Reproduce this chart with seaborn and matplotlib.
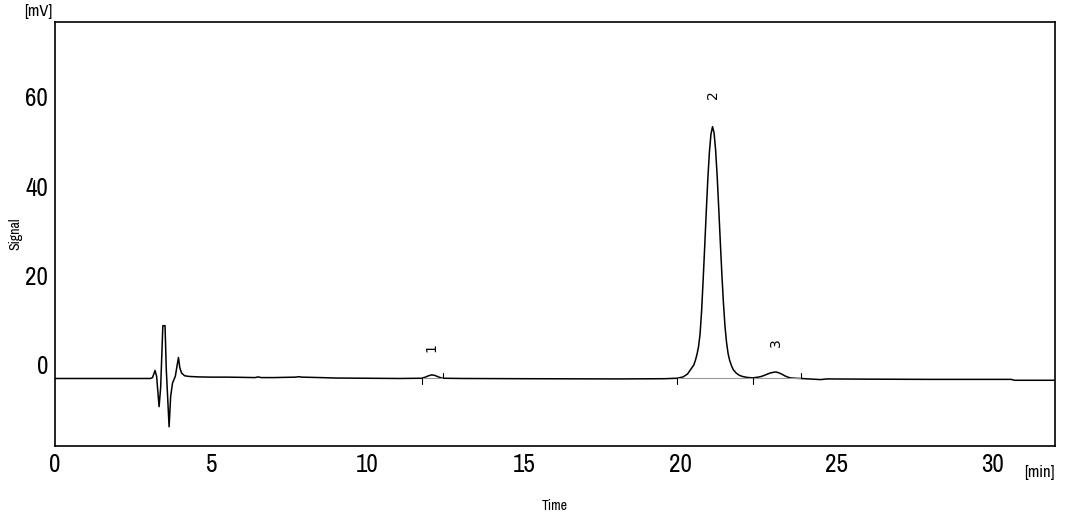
import matplotlib
matplotlib.use("Agg")
import matplotlib.pyplot as plt
from matplotlib import font_manager
import seaborn as sns
import pandas as pd

# chromatogram trace (time in min, signal in mV)
time_min = [0.0, 3.05, 3.12, 3.2, 3.25, 3.33, 3.38, 3.45, 3.52, 3.56, 3.65, 3.7, 3.76,
            3.85, 3.92, 3.95, 3.99, 4.05, 4.15, 4.3, 4.6, 5.0, 5.5, 6.0, 6.4, 6.5, 6.6,
            7.0, 7.7, 7.8, 7.9, 8.5, 9.0, 10.0, 11.0, 11.73, 11.85, 11.95, 12.05, 12.15,
            12.25, 12.35, 12.45, 13.0, 15.0, 18.0, 19.5, 19.9, 20.0, 20.1, 20.24, 20.34,
            20.44, 20.49, 20.54, 20.59, 20.64, 20.69, 20.74, 20.79, 20.84, 20.89, 20.94,
            20.99, 21.04, 21.09, 21.14, 21.19, 21.24, 21.29, 21.34, 21.39, 21.44, 21.49,
            21.54, 21.59, 21.64, 21.7, 21.8, 21.9, 22.0, 22.1, 22.2, 22.34, 22.5, 22.6,
            22.7, 22.8, 22.9, 23.0, 23.07, 23.15, 23.25, 23.35, 23.45, 23.55, 23.7, 24.0,
            24.5, 24.7, 26.0, 28.0, 30.6, 30.7, 32.0]
signal_mv = [0.0, 0.0, 0.2, 1.8, 0.5, -6.3, -2.0, 11.8, 11.8, 2.0, -10.8, -4.0, -1.0,
             0.5, 3.5, 4.7, 2.5, 1.2, 0.6, 0.45, 0.35, 0.3, 0.3, 0.25, 0.2, 0.35, 0.2,
             0.2, 0.3, 0.4, 0.3, 0.2, 0.1, 0.05, 0.0, 0.05, 0.3, 0.6, 0.8, 0.7,
             0.4, 0.15, 0.05, 0.0, -0.05, -0.1, -0.05, 0.05, 0.2, 0.35, 1.0, 2.0,
             3.0, 4.0, 5.3, 7.0, 9.8, 15.0, 22.0, 29.5, 37.3, 44.6, 50.6,
             54.6, 56.3, 54.9, 51.0, 45.1, 37.9, 30.4, 23.2, 16.8, 11.6, 8.0,
             5.5, 4.0, 3.0, 2.0, 1.2, 0.7, 0.45, 0.3, 0.2, 0.15, 0.3, 0.45,
             0.7, 1.0, 1.25, 1.4, 1.45, 1.3, 1.0, 0.6, 0.3, 0.12, 0.05, -0.05,
             -0.25, -0.1, -0.15, -0.2, -0.2, -0.4, -0.4]

# integration marks
peak_names = ["1", "2", "3"]
peak_rt = [12.05, 21.04, 23.07]
peak_label_y = [7.0, 63.5, 8.0]
mark_times = [11.73, 12.42, 19.91, 22.34, 23.87]
mark_dirs = [-1, 1, -1, -1, 1]
base_start = [11.73, 19.91, 22.34]
base_end = [12.42, 22.34, 23.87]

df = pd.DataFrame({"Time": time_min, "Signal": signal_mv})

# look for a narrow sans face, the original uses a condensed font
narrow_name = None
for f in font_manager.fontManager.ttflist:
    n = f.name.lower()
    if ("narrow" in n or "condensed" in n) and "mono" not in n and "serif" not in n:
        narrow_name = f.name
        break
if narrow_name is None:
    for f in font_manager.fontManager.ttflist:
        if str(f.stretch) in ("condensed", "semi-condensed", "extra-condensed"):
            narrow_name = f.name
            break

sns.set_style("white")
fam = [narrow_name, "DejaVu Sans"] if narrow_name else ["DejaVu Sans"]
plt.rcParams["font.family"] = fam
plt.rcParams["font.stretch"] = "condensed"
plt.rcParams["text.color"] = "black"
plt.rcParams["axes.labelcolor"] = "black"
plt.rcParams["xtick.color"] = "black"
plt.rcParams["ytick.color"] = "black"

fig = plt.figure(figsize=(10.75, 5.17), dpi=100)
ax = fig.add_axes([0.0512, 0.1373, 0.9302, 0.8201])

sns.lineplot(data=df, x="Time", y="Signal", ax=ax, color="black", lw=1.1,
             sort=False, estimator=None)

for x0, x1 in zip(base_start, base_end):
    ax.plot([x0, x1], [0, 0], color="#9a9a9a", lw=0.8)
for t, d in zip(mark_times, mark_dirs):
    ax.plot([t, t], [0, d * 1.2], color="black", lw=0.8)
for name, t, y in zip(peak_names, peak_rt, peak_label_y):
    ax.text(t, y, name, rotation=90, ha="center", va="center", fontsize=10,
            family=["DejaVu Sans"], stretch="normal")

ax.set_xlim(0, 32)
ax.set_ylim(-15.1, 79.7)
ax.set_xticks([0, 5, 10, 15, 20, 25, 30])
ax.set_yticks([0, 20, 40, 60])
ax.tick_params(axis="both", length=3, width=1, color="black", labelsize=18, pad=2)
for lbl in ax.get_yticklabels():
    lbl.set_va("bottom")
for s in ax.spines.values():
    s.set_color("black")
    s.set_linewidth(1.2)

ax.set_xlabel("Time", fontsize=10)
ax.set_ylabel("Signal", fontsize=10)
ax.xaxis.set_label_coords(0.5, -0.125)
ax.yaxis.set_label_coords(-0.033, 0.5)
fig.text(0.049, 0.977, "[mV]", ha="right", va="center", fontsize=12)
fig.text(0.967, 0.087, "[min]", ha="center", va="center", fontsize=12)

fig.savefig("out.png", dpi=100)
